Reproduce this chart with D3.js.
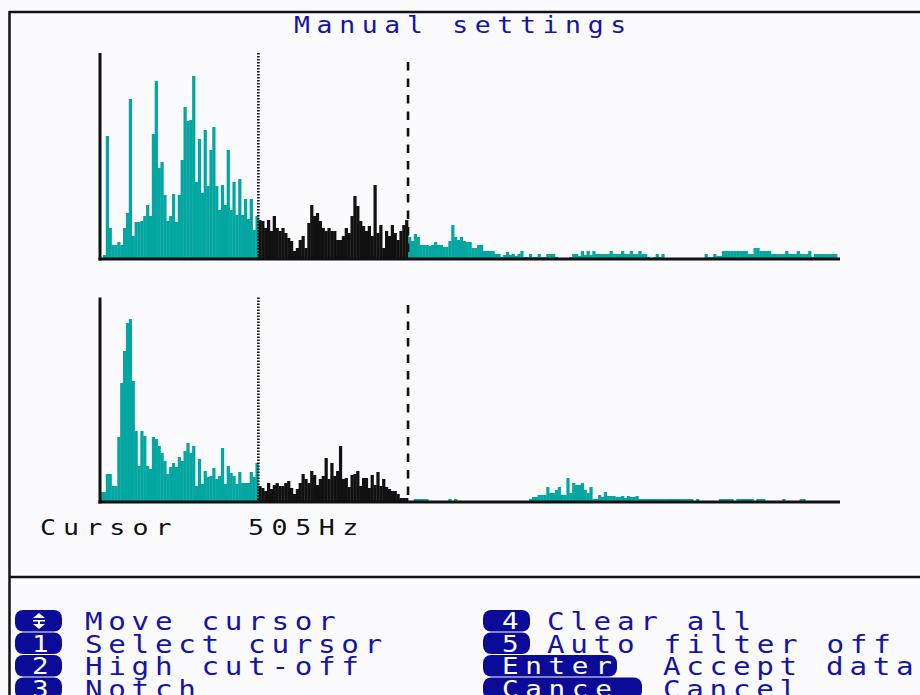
<!DOCTYPE html>
<html><head><meta charset="utf-8">
<script src="https://cdn.jsdelivr.net/npm/d3@7"></script>
<style>
html,body{margin:0;padding:0;background:#fbfbfd;}
svg{display:block;}
text{font-family:"DejaVu Sans Mono",monospace;}
</style></head><body>
<svg id="c" width="920" height="695"></svg>
<script>
// ---------- DATA ----------
const title = "Manual settings";
const cursorLabel = "Cursor";
const cursorValue = "505Hz";
// spectrum bins (amplitude), split at the two cursors
const topLow = [0,3,122,30,13,13,16,13,30,45,
  159,22,36,36,37,42,53,42,124,177,
  90,96,63,37,42,64,36,63,98,151,
  137,138,182,76,119,65,128,72,108,131,
  72,48,73,53,108,48,76,43,79,43,
  59,39,59,28,42];
const topBand = [38,37,30,38,27,42,30,27,30,25,
  20,17,7,10,18,22,10,35,53,42,
  45,37,30,27,30,27,27,18,18,22,
  30,25,42,62,52,37,32,27,32,22,
  73,25,33,10,27,22,33,25,18,27,
  33,38];
const topHigh = [21,17,24,21,13,13,13,12,13,16,
  13,13,11,11,17,33,21,18,21,17,
  16,16,10,10,13,13,7,7,7,7,
  4,4,1,3,6,3,4,2,4,7,
  1,1,4,1,1,4,1,1,4,4,
  4,1,0,0,0,0,1,4,4,2,
  7,3,7,3,7,4,4,4,4,4,
  7,4,4,4,7,4,4,7,4,4,
  7,4,4,1,0,1,4,1,4,0,
  0,0,0,0,0,0,0,0,0,0,
  0,0,0,4,1,1,4,2,2,7,
  7,7,7,7,7,7,7,7,4,4,
  10,10,7,7,7,7,4,4,4,4,
  4,7,4,4,4,7,4,4,4,7,
  1,4,4,4,4,4,4,4,4];
const botLow = [9,9,27,27,15,15,64,118,150,178,
  182,120,70,35,70,65,35,32,64,62,
  55,48,40,27,34,38,34,44,40,50,
  58,48,55,15,42,17,30,24,25,33,
  22,25,53,17,35,28,25,17,29,18,
  18,18,29,24,38];
const botBand = [15,13,10,18,12,16,18,15,15,18,
  20,13,7,12,18,27,22,18,30,26,
  16,22,25,43,22,38,25,30,55,22,
  23,14,26,27,30,15,23,23,13,26,
  16,29,15,22,14,12,10,10,7,3,
  3,3];
const botHigh = [0,0,2,2,2,2,2,0,0,0,
  0,0,0,0,2,0,2,0,0,0,
  0,0,0,0,0,0,0,0,0,0,
  0,0,0,0,0,0,0,0,0,0,
  0,0,2,4,4,6,6,6,14,8,
  8,11,14,6,6,23,8,18,16,16,
  18,11,8,14,2,2,6,4,9,5,
  5,5,4,4,5,3,5,4,4,5,
  2,2,2,2,2,2,2,2,2,2,
  2,2,2,2,2,2,2,2,2,0,
  2,0,0,0,0,0,0,0,2,2,
  2,2,2,0,2,2,2,2,2,2,
  0,2,2,2,0,0,0,0,0,0,
  2,0,0,0,0,0,2,2,0,0,
  0,0,0,0,0,0,0,0,0];
const menuLeft = [
  {key:"arrow", label:"Move cursor"},
  {key:"1", label:"Select cursor"},
  {key:"2", label:"High cut-off"},
  {key:"3", label:"Notch"}];
const menuRight = [
  {key:"4", label:"Clear all"},
  {key:"5", label:"Auto filter off"},
  {key:"Enter", label:"Accept data"},
  {key:"Cance", label:"Cancel"}];

// ---------- SETUP ----------
const W = 920, H = 695;
const TEAL = "#03a6a1", INK = "#111111", BLUE = "#1515a5", BADGE = "#0b0b98", BG = "#fbfbfd";
const svg = d3.select("#c");
svg.append("rect").attr("width", W).attr("height", H).attr("fill", BG);

// monospaced text, glyphs widened by sx, fixed character pitch
function mono(g, str, x, y, size, pitch, fill, sx) {
  sx = sx || 1.25;
  return g.append("text").attr("x", 0).attr("y", 0)
    .attr("transform", `translate(${x},${y}) scale(${sx},1)`)
    .attr("font-size", size)
    .attr("letter-spacing", (pitch / sx - 0.602 * size).toFixed(2))
    .attr("fill", fill).attr("xml:space", "preserve").text(str);
}

// frame
const frame = svg.append("g").attr("stroke", INK).attr("stroke-width", 2.5);
frame.append("line").attr("x1", 9).attr("x2", W).attr("y1", 12).attr("y2", 12);
frame.append("line").attr("x1", 9.5).attr("x2", 9.5).attr("y1", 11).attr("y2", H);
frame.append("line").attr("x1", 9).attr("x2", W).attr("y1", 577).attr("y2", 577);

mono(svg, title, 294, 32.5, 23, 22.6, BLUE, 1.15);

// ---------- SPECTRA ----------
const cursorLow = topLow.length;
const cursorHigh = topLow.length + topBand.length;
const topData = topLow.concat(topBand, topHigh);
const botData = botLow.concat(botBand, botHigh);
const N = topData.length;
const x = d3.scaleLinear().domain([0, N]).range([100, 837]);

function spectrum(data, base, top, dashTop) {
  const y = d3.scaleLinear().domain([0, base - top]).range([base, top]);
  const g = svg.append("g");
  g.selectAll("rect").data(data).join("rect")
    .attr("x", (d, i) => x(i))
    .attr("width", (d, i) => x(i + 1) - x(i) + 0.35)
    .attr("y", d => y(d))
    .attr("height", d => y(0) - y(d) + 1)
    .attr("fill", (d, i) => (i >= cursorLow && i < cursorHigh) ? INK : TEAL);
  // axes
  g.append("line").attr("x1", x(0)).attr("x2", x(0))
    .attr("y1", y.range()[1]).attr("y2", y(0) + 2.5)
    .attr("stroke", INK).attr("stroke-width", 3);
  g.append("line").attr("x1", x(0) - 1.5).attr("x2", x(N) + 3)
    .attr("y1", y(0) + 1).attr("y2", y(0) + 1)
    .attr("stroke", INK).attr("stroke-width", 3);
  // cursors
  g.append("line").attr("x1", x(cursorLow)).attr("x2", x(cursorLow))
    .attr("y1", y.range()[1]).attr("y2", y(0))
    .attr("stroke", INK).attr("stroke-width", 2.6).attr("stroke-dasharray", "1.6,1.4");
  g.append("line").attr("x1", x(cursorHigh)).attr("x2", x(cursorHigh))
    .attr("y1", dashTop).attr("y2", y(0))
    .attr("stroke", INK).attr("stroke-width", 2.6).attr("stroke-dasharray", "8.5,8");
}
spectrum(topData, 258, 53, 62);
spectrum(botData, 501, 297.5, 305);

mono(svg, cursorLabel, 40, 535, 20.5, 23.1, INK, 1.3);
mono(svg, cursorValue, 248, 535, 20.5, 23.6, INK, 1.3);

// ---------- MENU ----------
const rowBase = [630, 652.5, 675, 697.5];
const rowTop = [610, 632.5, 655, 677.5];
const menu = svg.append("g");
menuLeft.forEach((m, i) => {
  menu.append("rect").attr("x", 15).attr("y", rowTop[i]).attr("width", 47).attr("height", 21.5)
    .attr("rx", 8).attr("fill", BADGE);
  if (m.key === "arrow") {
    const cx = 39, t = rowTop[i];
    menu.append("path")
      .attr("d", `M${cx-6},${t+8}L${cx+6},${t+8}L${cx},${t+3}Z M${cx-6},${t+10}H${cx+6}V${t+11.5}H${cx-6}Z M${cx-1},${t+11}H${cx+1}V${t+14}H${cx-1}Z M${cx-6},${t+14}L${cx+6},${t+14}L${cx},${t+19}Z`)
      .attr("fill", "#fff");
  } else {
    mono(menu, m.key, 32, rowBase[i] - 1, 23, 23.3, "#fff", 1.2);
  }
  mono(menu, m.label, 85, rowBase[i], 24, 23.3, BLUE, 1.22);
});
const rightW = {"4": 47, "5": 47, "Enter": 134, "Cance": 159};
menuRight.forEach((m, i) => {
  menu.append("rect").attr("x", 483).attr("y", rowTop[i]).attr("width", rightW[m.key]).attr("height", 21.5)
    .attr("rx", 8).attr("fill", BADGE);
  mono(menu, m.key, 502, rowBase[i] - 1, 23, 23.3, "#fff", 1.2);
  const lx = m.key.length > 1 ? 663 : 547;
  mono(menu, m.label, lx, rowBase[i], 24, 23.3, BLUE, 1.22);
});
</script>
</body></html>
